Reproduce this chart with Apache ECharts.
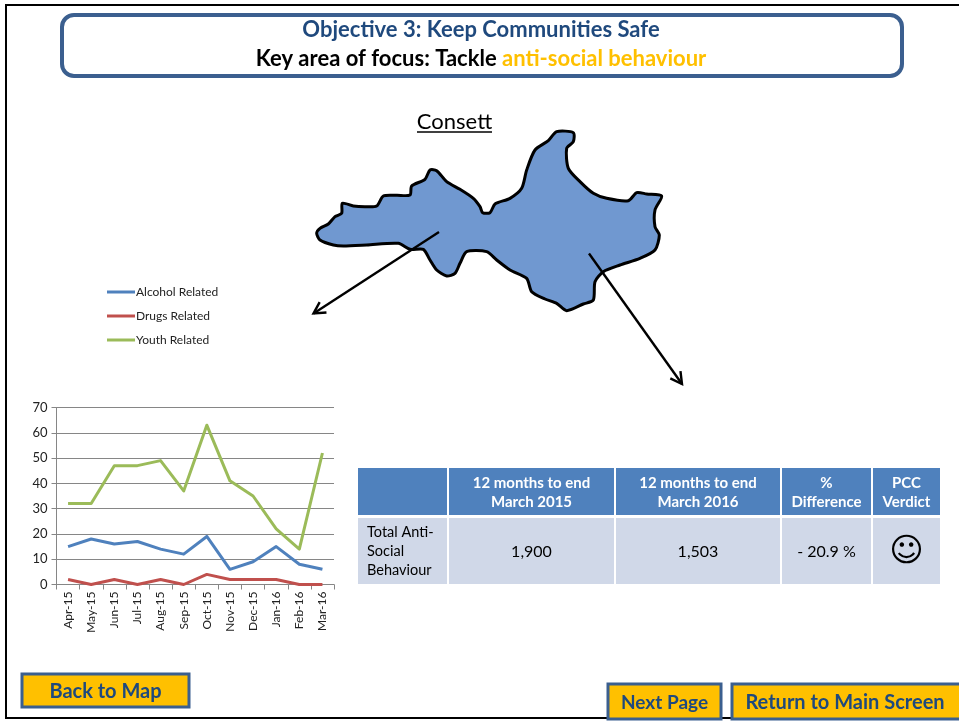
<!DOCTYPE html>
<html>
<head>
<meta charset="utf-8">
<style>html,body{margin:0;padding:0;background:#fff}#c{width:959px;height:721px}</style>
<script src="https://cdn.jsdelivr.net/npm/echarts@6/dist/echarts.min.js"></script>
</head>
<body>
<div id="c"></div>
<script>
var months = ['Apr-15','May-15','Jun-15','Jul-15','Aug-15','Sep-15','Oct-15','Nov-15','Dec-15','Jan-16','Feb-16','Mar-16'];
var alcohol = [15,18,16,17,14,12,19,6,9,15,8,6];
var drugs = [2,0,2,0,2,0,4,2,2,2,0,0];
var youth = [32,32,47,47,49,37,63,41,35,22,14,52];
var tableHead = ['', '12 months to end\nMarch 2015', '12 months to end\nMarch 2016', '%\nDifference', 'PCC\nVerdict'];
var tableRow = ['Total Anti-\nSocial\nBehaviour', '1,900', '1,503', '- 20.9 %', '\u263A'];
var FONT = 'Lato, "Noto Sans", sans-serif';
var colEdges = [358,448,615,781,872,940];
var outline = [[50,400],[60,385],[85,372],[105,350],[125,340],[127,310],[160,318],[195,320],[230,318],[250,288],[290,286],[330,285],[335,258],[375,238],[390,210],[410,212],[440,245],[480,268],[520,295],[540,320],[548,338],[570,338],[585,312],[630,295],[665,265],[680,210],[705,150],[745,122],[770,95],[820,98],[820,125],[800,145],[805,205],[840,245],[880,280],[920,295],[985,302],[1010,278],[1040,282],[1085,288],[1065,330],[1065,380],[1078,405],[1065,450],[1020,475],[960,495],[910,515],[885,545],[880,600],[850,612],[800,632],[770,610],[735,597],[695,575],[680,535],[630,510],[590,480],[560,455],[500,455],[480,490],[465,520],[440,528],[410,510],[390,480],[370,448],[330,448],[295,430],[200,435],[130,438],[100,435],[60,420]]
  .map(function(p){return [300+p[0]/3, 100+p[1]/3];});

var g = [];
function rect(x,y,w,h,fill,stroke,lw,r){ g.push({type:'rect',silent:true,shape:{x:x,y:y,width:w,height:h,r:r||0},style:{fill:fill,stroke:stroke||null,lineWidth:lw||0}}); }
function text(x,y,t,size,color,weight,align,font,lh){ g.push({type:'text',silent:true,x:x,y:y,style:{text:t,font:(weight||'normal')+' '+size+'px '+(font||FONT),fill:color,align:align||'center',verticalAlign:'middle',lineHeight:lh||undefined}}); }
function line(x1,y1,x2,y2,c,w){ g.push({type:'line',silent:true,shape:{x1:x1,y1:y1,x2:x2,y2:y2},style:{stroke:c,lineWidth:w}}); }
function arrow(x1,y1,x2,y2){
  line(x1,y1,x2,y2,'#000',2.4);
  var a=Math.atan2(y2-y1,x2-x1), L=13, s=0.5;
  g.push({type:'polyline',silent:true,shape:{points:[[x2-L*Math.cos(a-s),y2-L*Math.sin(a-s)],[x2,y2],[x2-L*Math.cos(a+s),y2-L*Math.sin(a+s)]]},style:{stroke:'#000',lineWidth:2.4,fill:null}});
}
// page frame
rect(6,5,960,713,null,'#000',2);
// title box
rect(62,15,840,61,'#fff','#3B5F8F',4,12);
text(481,30,'Objective 3: Keep Communities Safe',22,'#1F497D','bold');
g.push({type:'text',silent:true,x:481,y:59,style:{
  text:'{a|Key area of focus: Tackle }{b|anti-social behaviour}',align:'center',verticalAlign:'middle',
  rich:{a:{font:'bold 22px '+FONT,fill:'#000'},b:{font:'bold 22px '+FONT,fill:'#FFC000'}}}});
// map
text(454.5,122,'Consett',22,'#000','normal');
line(417,132,492,132,'#000',1.5);
g.push({type:'polygon',silent:true,shape:{points:outline,smooth:0.25},style:{fill:'#7098D0',stroke:'#000',lineWidth:3,lineJoin:'round'}});
arrow(439,232,313.5,313.5);
arrow(589,253.5,682,384);
// table
for(var i=0;i<5;i++){
  var x0=colEdges[i]+(i?1:0), x1=colEdges[i+1]-(i<4?1:0);
  rect(x0,468,x1-x0,47,'#4F81BD');
  rect(x0,518,x1-x0,66,'#D0D8E8');
  if(tableHead[i]) text((x0+x1)/2,493,tableHead[i],15,'#fff','bold',null,null,19);
  if(i===0) text(367,551,tableRow[0],14.5,'#000','normal','left',null,19);
  else if(i===4) text((x0+x1)/2,552,tableRow[4],33,'#000','normal',null,'"DejaVu Sans"');
  else text((x0+x1)/2,552,tableRow[i],16,'#000','normal');
}
// buttons
function button(x,y,w,h,t,s,tx){ rect(x,y,w,h,'#FFC000','#3B5F8F',3); text(tx||x+w/2,y+h/2+1,t,s,'#1F497D','bold'); }
button(22,674,167,33,'Back to Map',20);
button(608,684,113,35,'Next Page',19);
button(732,684,230,35,'Return to Main Screen',20,845);

function series(name,data,color){
  return {name:name,type:'line',data:data,symbol:'none',smooth:false,silent:true,lineStyle:{color:color,width:3,join:'round'},itemStyle:{color:color}};
}
var chart = echarts.init(document.getElementById('c'),null,{renderer:'canvas'});
chart.setOption({
  animation:false,
  backgroundColor:'#fff',
  textStyle:{fontFamily:FONT},
  grid:{left:56.5,top:407.5,width:277.5,height:177,containLabel:false},
  legend:{
    orient:'vertical',left:102,top:279,itemWidth:28,itemHeight:3,itemGap:8,icon:'rect',
    selectedMode:false,
    formatter:function(n){return n;},
    textStyle:{fontSize:12,color:'#222',fontFamily:FONT,padding:[0,0,0,-4],lineHeight:16},
    data:['Alcohol Related','Drugs Related','Youth Related']
  },
  xAxis:{
    type:'category',data:months,boundaryGap:true,
    axisLine:{lineStyle:{color:'#868686',width:1}},
    axisTick:{show:true,alignWithLabel:false,length:5,lineStyle:{color:'#868686'}},
    axisLabel:{rotate:90,fontSize:12,color:'#222',margin:7,interval:0,fontFamily:FONT},
    splitLine:{show:false}
  },
  yAxis:{
    type:'value',min:0,max:70,interval:10,
    axisLine:{show:true,lineStyle:{color:'#868686',width:1}},
    axisTick:{show:true,length:5,lineStyle:{color:'#868686'}},
    axisLabel:{fontSize:13,color:'#222',margin:9,fontFamily:FONT},
    splitLine:{show:true,lineStyle:{color:'#868686',width:1}}
  },
  series:[series('Alcohol Related',alcohol,'#4F81BD'),series('Drugs Related',drugs,'#C0504D'),series('Youth Related',youth,'#9BBB59')],
  graphic:{elements:g}
});
</script>
</body>
</html>
